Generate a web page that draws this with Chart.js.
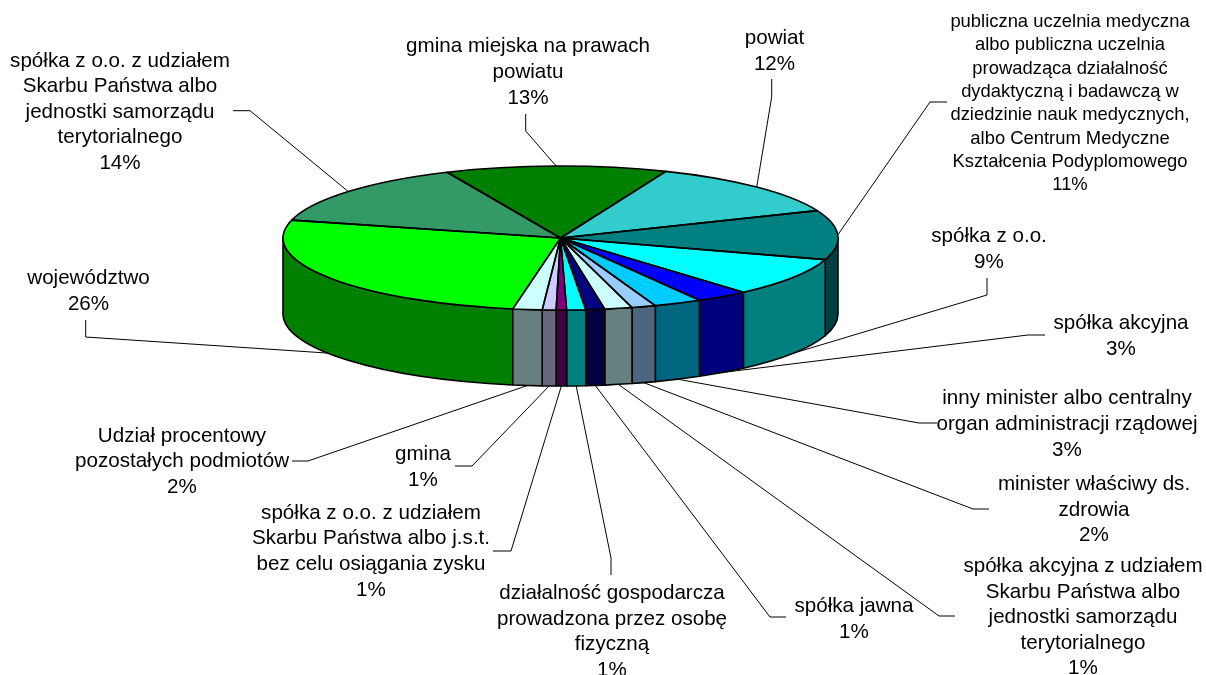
<!DOCTYPE html>
<html lang="pl">
<head>
<meta charset="utf-8">
<title>Udział procentowy podmiotów</title>
<script src="https://cdn.jsdelivr.net/npm/chart.js@4/dist/chart.umd.min.js"></script>
<style>
    html, body { margin: 0; padding: 0; background: #fff; }
    canvas { display: block; }
</style>
</head>
<body>
<canvas id="pieChart" width="1206" height="675"></canvas>
<script>
// ===========================
// DATA (clockwise, starting at województwo)
// ===========================
const categories = [
    ['województwo'],
    ['spółka z o.o. z udziałem', 'Skarbu Państwa albo', 'jednostki samorządu', 'terytorialnego'],
    ['gmina miejska na prawach', 'powiatu'],
    ['powiat'],
    ['publiczna uczelnia medyczna', 'albo publiczna uczelnia', 'prowadząca działalność', 'dydaktyczną i badawczą w', 'dziedzinie nauk medycznych,', 'albo Centrum Medyczne', 'Kształcenia Podyplomowego'],
    ['spółka z o.o.'],
    ['spółka akcyjna'],
    ['inny minister albo centralny', 'organ administracji rządowej'],
    ['minister właściwy ds.', 'zdrowia'],
    ['spółka akcyjna z udziałem', 'Skarbu Państwa albo', 'jednostki samorządu', 'terytorialnego'],
    ['spółka jawna'],
    ['działalność gospodarcza', 'prowadzona przez osobę', 'fizyczną'],
    ['spółka z o.o. z udziałem', 'Skarbu Państwa albo j.s.t.', 'bez celu osiągania zysku'],
    ['gmina'],
    ['Udział procentowy', 'pozostałych podmiotów']
];
// slice sizes, the printed labels are rounded
const sliceValues = [26.25, 14.3, 12.9, 12.6, 11.05, 8.7, 3.1, 2.8, 1.4, 1.6, 1.1, 1.1, 0.6, 0.8, 1.7];
const percentLabels = ['26%', '14%', '13%', '12%', '11%', '9%', '3%', '3%', '2%', '1%', '1%', '1%', '1%', '1%', '2%'];
const sliceColors = ['#00FF00', '#339966', '#008000', '#33CCCC', '#008080', '#00FFFF', '#0000FF', '#00CCFF', '#99CCFF', '#CCFFFF', '#000080', '#00FFFF', '#800080', '#CCCCFF', '#CCFFFF'];

// ===========================
// LAYOUT
// ===========================
const PIE_RADIUS_X = 277.5;
const PIE_RADIUS_Y = 72;
const PIE_DEPTH = 76;
const FONT = '"Liberation Sans", Arial, sans-serif';
const LABEL_SIZE = 20.6;

// x = centre of text block, y = baseline of first line, leader = fixed part of the leader line
const labelLayout = [
    { x: 88.5, y: 284, size: LABEL_SIZE, step: 25.8, leader: [[85.7, 320], [85.7, 337]] },
    { x: 120, y: 66.5, size: LABEL_SIZE, step: 25.6, leader: [[233, 110.7], [250, 110.7]] },
    { x: 528, y: 52, size: LABEL_SIZE, step: 26, leader: [[525.7, 114], [525.7, 131]] },
    { x: 774.5, y: 44, size: LABEL_SIZE, step: 26, leader: [[771.7, 79], [771.7, 97]] },
    { x: 1070, y: 27, size: 18.4, step: 23.3, leader: [[947, 102], [930, 102]] },
    { x: 989, y: 242, size: LABEL_SIZE, step: 25.6, leader: [[987, 278], [987, 295]] },
    { x: 1121, y: 329, size: LABEL_SIZE, step: 25.6, leader: [[1045, 335], [1028, 335]] },
    { x: 1067, y: 404, size: LABEL_SIZE, step: 26, leader: [[937, 423], [919, 423]] },
    { x: 1094, y: 490, size: LABEL_SIZE, step: 25.7, leader: [[989, 509], [973, 509]] },
    { x: 1083, y: 572, size: LABEL_SIZE, step: 25.6, leader: [[955, 616], [939, 616]] },
    { x: 854, y: 612, size: LABEL_SIZE, step: 25.6, leader: [[786, 617], [770, 617]] },
    { x: 612, y: 599, size: LABEL_SIZE, step: 25.6, leader: [[611, 575], [611, 558]] },
    { x: 371, y: 518.5, size: LABEL_SIZE, step: 25.8, leader: [[493, 551], [511, 551]] },
    { x: 423, y: 460, size: LABEL_SIZE, step: 26, leader: [[455, 466], [472, 466]] },
    { x: 182, y: 441.5, size: LABEL_SIZE, step: 25.8, leader: [[292, 461], [308, 461]] }
];

// side wall is the top colour at half brightness
function halfColor(hex) {
    const n = parseInt(hex.slice(1), 16);
    return `rgb(${(n >> 16) >> 1},${((n >> 8) & 255) >> 1},${(n & 255) >> 1})`;
}

// Screen point on the squashed rim for a canvas angle
function rimPoint(arc, angle, drop) {
    return {
        x: arc.x + Math.cos(angle) * PIE_RADIUS_X,
        y: arc.y + Math.sin(angle) * PIE_RADIUS_Y + drop
    };
}

// Only the part of a slice between 0 and PI faces the viewer
function frontSpan(arc) {
    for (let k = -1; k <= 1; k++) {
        const s = Math.max(arc.startAngle + k * 2 * Math.PI, 0);
        const e = Math.min(arc.endAngle + k * 2 * Math.PI, Math.PI);
        if (e > s) return [s, e];
    }
    return null;
}

function traceWall(ctx, arc, span) {
    ctx.beginPath();
    ctx.ellipse(arc.x, arc.y, PIE_RADIUS_X, PIE_RADIUS_Y, 0, span[0], span[1]);
    ctx.ellipse(arc.x, arc.y + PIE_DEPTH, PIE_RADIUS_X, PIE_RADIUS_Y, 0, span[1], span[0], true);
    ctx.closePath();
}

const pie3dPlugin = {
    id: 'pie3d',
    beforeDatasetsDraw(chart) {
        const ctx = chart.ctx;
        const arcs = chart.getDatasetMeta(0).data;

        // Leader lines sit behind the pie and end on the rim at mid slice
        ctx.save();
        ctx.strokeStyle = '#000';
        ctx.lineWidth = 1;
        arcs.forEach((arc, i) => {
            const mid = (arc.startAngle + arc.endAngle) / 2;
            const front = Math.sin(mid) > 0;
            const end = rimPoint(arc, mid, front ? PIE_DEPTH : 0);
            const leader = labelLayout[i].leader;
            ctx.beginPath();
            ctx.moveTo(leader[0][0], leader[0][1]);
            ctx.lineTo(leader[1][0], leader[1][1]);
            ctx.lineTo(end.x, end.y);
            ctx.stroke();
        });
        ctx.restore();

        // Side wall
        ctx.save();
        ctx.strokeStyle = '#000';
        ctx.lineWidth = 1.6;
        ctx.lineJoin = 'round';
        arcs.forEach((arc, i) => {
            const span = frontSpan(arc);
            if (!span) return;
            traceWall(ctx, arc, span);
            ctx.fillStyle = halfColor(sliceColors[i]);
            ctx.fill();
            ctx.stroke();
        });
        ctx.restore();

        // Squash the library's own arcs into the top face
        const first = arcs[0];
        ctx.save();
        ctx.translate(first.x, first.y);
        ctx.scale(1, PIE_RADIUS_Y / PIE_RADIUS_X);
        ctx.translate(-first.x, -first.y);
    },
    afterDatasetsDraw(chart) {
        const ctx = chart.ctx;
        ctx.restore();
        const arcs = chart.getDatasetMeta(0).data;

        // Outlines are stroked unsquashed so the line weight stays even
        ctx.save();
        ctx.strokeStyle = '#000';
        ctx.lineWidth = 1.6;
        ctx.lineJoin = 'round';
        arcs.forEach(arc => {
            ctx.beginPath();
            ctx.moveTo(arc.x, arc.y);
            ctx.ellipse(arc.x, arc.y, PIE_RADIUS_X, PIE_RADIUS_Y, 0, arc.startAngle, arc.endAngle);
            ctx.closePath();
            ctx.stroke();
        });
        ctx.restore();

        // Labels
        ctx.save();
        ctx.fillStyle = '#000';
        ctx.textAlign = 'center';
        ctx.textBaseline = 'alphabetic';
        categories.forEach((lines, i) => {
            const box = labelLayout[i];
            ctx.font = `${box.size}px ${FONT}`;
            lines.concat(percentLabels[i]).forEach((line, n) => {
                ctx.fillText(line, box.x, box.y + n * box.step);
            });
        });
        ctx.restore();
    }
};

new Chart(document.getElementById('pieChart').getContext('2d'), {
    type: 'pie',
    data: {
        labels: categories.map(lines => lines.join(' ')),
        datasets: [{
            data: sliceValues,
            backgroundColor: sliceColors,
            borderWidth: 0,
            clip: false
        }]
    },
    options: {
        responsive: false,
        animation: false,
        events: [],
        rotation: 189.9,
        radius: PIE_RADIUS_X,
        // centre of the chart area lands on the pie centre (560.5, 238)
        layout: { padding: { right: 85, bottom: 199 } },
        plugins: {
            legend: { display: false },
            title: { display: false },
            tooltip: { enabled: false }
        }
    },
    plugins: [pie3dPlugin]
});
</script>
</body>
</html>
